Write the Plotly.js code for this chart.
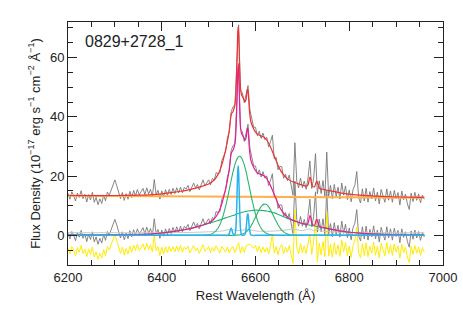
<!DOCTYPE html>
<html><head><meta charset="utf-8">
<script src="https://cdn.plot.ly/plotly-3.0.1.min.js"></script>
<style>html,body{margin:0;padding:0;background:#fff}#chart{width:463px;height:309px}</style>
</head><body><div id="chart"></div>
<script>
// ---- observed spectrum (continuum-subtracted), sampled every 4 A from 6200 A ----
const waveStart = 6200;
const waveStep = 4;
const fluxSub = [
 0.8,-1.2,1.3,0.1,-1.8,0.9,-0.6,1.7,-1.0,0.5,-2.1,0.4,-1.4,1.2,-2.2,-0.5,-3.0,-1.0,-2.6,0.3,-1.7,1.3,0.2,2.0,3.9,
 5.4,3.5,1.0,-0.9,1.2,-1.5,0.8,-1.1,1.6,-0.5,1.9,0.1,2.2,
 0.4,1.5,2.6,0.5,2.8,0.7,2.3,-0.1,
 5.6,0.5,2.0,-1.0,1.8,
 -0.3,2.2,0.2,2.3,0.6,
 2.7,0.9,2.9,1.1,3.1,
 1.2,3.0,2.5,3.7,1.6,3.2,4.5,2.9,4.0,2.2,4.1,5.6,3.6,4.4,5.6,3.9,6.1,5.5,8.1,7.7,8.0,12.1,13.5,15.1,19.8,21.8,28.6,30.3,30.8,43.5,
 58.0,35.7,35.0,31.7,34.5,37.5,29.4,25.8,23.5,23.4,20.6,22.1,19.7,21.5,19.3,20.1,16.8,18.6,20.8,12.8,13.4,9.1,10.3,10.2,6.3,
 7.7,5.5,7.4,3.6,0.6,18.3,5.4,3.1,6.4,3.1,5.4,2.6,6.4,12.2,2.9,6.3,14.7,1.1,5.5,1.2,5.6,0.3,15.2,0.3,4.0,
 -0.5,4.3,0.2,3.4,-0.6,4.8,0.7,3.8,-0.8,2.5,-1.5,2.6,4.1,8.7,-0.1,-1.9,2.9,-1.2,3.1,-1.6,2.0,-0.5,3.2,-1.2,1.8,
 -2.2,2.7,0.6,-1.6,2.9,-0.9,2.2,-1.6,2.4,-0.4,1.7,-2.5,2.2,-0.7,1.2,-2.1,-4.0,1.5,-1.3,1.8,-0.9,1.3,-1.7,0.9,-0.5
];
// ---- fit residual (data - model), same sampling ----
const residual = [
 0.7,-1.3,1.2,0.0,-1.9,0.8,-0.7,1.6,-1.1,0.4,-2.2,0.3,-1.5,1.1,-2.3,-0.6,-3.1,-1.1,-2.7,0.2,-1.8,1.2,0.1,1.9,3.8,
 5.2,3.3,0.8,-1.1,1.0,-1.7,0.6,-1.3,1.4,-0.7,1.7,-0.1,2.0,
 -0.1,1.0,2.1,0.0,2.3,0.2,1.8,-0.6,
 4.8,-0.2,1.2,-1.8,1.0,
 -1.3,1.2,-0.8,1.3,-0.4,
 1.2,-0.6,1.4,-0.4,1.6,
 -0.7,1.0,0.3,1.4,-0.9,0.5,1.6,-0.2,0.8,-1.1,0.6,1.9,-0.4,0.2,1.2,-0.8,0.9,-0.3,1.5,0.1,-1.0,1.3,0.4,-0.6,1.1,-0.9,0.7,1.2,-0.8,0.6,
 2.5,-1.0,1.2,-0.8,1.5,1.8,2.0,1.4,0.6,1.6,-0.5,1.3,-0.9,1.1,-0.6,0.9,-1.3,1.7,5.5,-1.0,1.2,-1.6,0.8,1.9,-1.2,
 1.0,-0.7,1.6,-1.8,-4.5,13.5,0.8,-1.3,2.2,-0.9,1.5,-1.1,2.3,5.5,-1.4,3.0,10.5,-4.0,2.4,-1.6,2.9,-2.2,12.8,-2.0,1.9,
 -2.4,2.5,-1.5,1.8,-2.1,3.4,-0.6,2.6,-1.9,1.4,-2.5,1.6,3.2,7.8,-0.9,-2.6,2.2,-1.8,2.5,-2.2,1.4,-1.0,2.7,-1.7,1.3,
 -2.6,2.3,0.2,-1.9,2.6,-1.2,1.9,-1.8,2.1,-0.6,1.5,-2.7,2.0,-0.9,1.0,-2.3,-4.2,1.3,-1.4,1.6,-1.0,1.1,-1.8,0.8,-0.6
];
// ---- continuum ----
const contWave = [6200, 6960];
const contFlux = [13.4, 12.7];
// ---- model components ----
const modelWave = [6200,6250,6300,6350,6380,6400,6420,6440,6460,6480,
 6500,6510,6520,6528,6536,6540,6544,6546,6548,6550,
 6552,6556,6558,6560,6561,6562,6563,6564,6565,6566,
 6568,6570,6574,6578,6580,6582,6583,6584,6585,6587,
 6590,6594,6600,6606,6612,6618,6624,6630,6636,6642,
 6648,6654,6660,6670,6680,6690,6700,6708,6712,6714,
 6716,6718,6721,6726,6729,6731,6733,6737,6745,6760,
 6780,6800,6830,6870,6910,6960];
const broad1 = [0,0,0,0,0,0,0,0,0,0.01,
 0.19,0.76,2.4,5.2,9.6,12.4,15.4,17.0,18.5,20.0,
 21.4,23.8,24.8,25.6,25.9,26.2,26.4,26.6,26.7,26.7,
 26.6,26.2,24.8,22.7,21.4,20.0,19.2,18.5,17.7,16.2,
 13.9,11.0,7.2,4.3,2.4,1.24,0.6,0.26,0.1,0.04,
 0,0,0,0,0,0,0,0,0,0,
 0,0,0,0,0,0,0,0,0,0,
 0,0,0,0,0,0];
const broad2 = [0,0,0,0,0,0,0,0,0,0,
 0,0,0,0,0,0,0,0.01,0.01,0.01,
 0.02,0.04,0.05,0.07,0.08,0.09,0.11,0.12,0.14,0.15,
 0.25,0.33,0.56,0.92,1.16,1.43,1.59,1.76,1.94,2.34,
 3.0,4.2,6.1,8.1,9.7,10.54,10.37,9.2,7.4,5.4,
 3.6,2.1,1.16,0.33,0.07,0.01,0,0,0,0,
 0,0,0,0,0,0,0,0,0,0,
 0,0,0,0,0,0];
const broad3 = [0.05,0.08,0.15,0.3,0.5,0.8,1.2,1.7,2.3,3.1,
 4.0,4.5,5.0,5.4,5.9,6.1,6.3,6.4,6.5,6.6,
 6.7,6.9,7.1,7.2,7.25,7.3,7.35,7.4,7.45,7.5,
 7.6,7.7,7.9,8.0,8.1,8.15,8.2,8.2,8.25,8.3,
 8.35,8.45,8.5,8.5,8.45,8.35,8.2,8.0,7.8,7.5,
 7.1,6.7,6.3,5.6,5.0,4.5,4.0,3.7,3.55,3.5,
 3.45,3.4,3.3,3.15,3.05,3.0,2.95,2.85,2.6,2.1,
 1.5,1.05,0.65,0.35,0.2,0.12];
const narrow = [0,0,0,0,0,0,0,0,0,0,
 0,0,0,0,0,0,0.55,1.7,2.5,1.7,
 0.55,0.23,2.2,10.0,16.1,21.4,23.5,21.4,16.1,10.0,
 2.2,0.23,0,0.42,2.3,6.0,7.2,7.2,6.0,2.3,
 0.13,0,0,0,0,0,0,0,0,0,
 0,0,0,0,0,0,0,0,0,0,
 0,0,0,0,0,0,0,0,0,0,
 0,0,0,0,0,0];
const sulfur = [0,0,0,0,0,0,0,0,0,0,
 0,0,0,0,0,0,0,0,0,0,
 0,0,0,0,0,0,0,0,0,0,
 0,0,0,0,0,0,0,0,0,0,
 0,0,0,0,0,0,0,0,0,0,
 0,0,0,0,0,0,0,0,0.53,1.9,
 3.25,2.6,0.45,0.27,1.77,2.4,1.52,0.06,0,0,
 0,0,0,0,0,0];
const grayWave = [6200,6300,6400,6460,6500,6530,6548,6563,6583,6600,6630,6660,6680,6700,6716,6724,6731,6745,6780,6820,6960];
const grayComp = [0.9,0.9,0.9,1.0,1.2,1.5,2.0,1.6,2.0,1.5,1.4,1.7,2.1,1.6,2.2,1.6,2.0,1.4,1.1,0.9,0.9];
const residOffset = -5;

// ---- derived ----
const wave = fluxSub.map((_, i) => waveStart + i * waveStep);
function contAt(w) { return contFlux[0] + (contFlux[1] - contFlux[0]) * (w - contWave[0]) / (contWave[1] - contWave[0]); }
const fluxObs = fluxSub.map((v, i) => v + contAt(wave[i]));
const modelSub = modelWave.map((w, i) => broad1[i] + broad2[i] + broad3[i] + narrow[i] + sulfur[i]);
const modelTot = modelSub.map((v, i) => v + contAt(modelWave[i]));
const residShift = residual.map(v => v + residOffset);

const GRAY = 'rgb(120,120,120)';
const traces = [
  {x: wave, y: fluxObs, mode: 'lines', line: {color: GRAY, width: 0.9}},
  {x: wave, y: fluxSub, mode: 'lines', line: {color: GRAY, width: 0.9}},
  {x: wave, y: residShift, mode: 'lines', line: {color: 'rgb(255,236,0)', width: 1}},
  {x: contWave, y: contFlux, mode: 'lines', line: {color: 'rgb(255,175,70)', width: 2}},
  {x: grayWave, y: grayComp, mode: 'lines', line: {color: 'rgb(200,200,200)', width: 1, shape: 'spline'}},
  {x: modelWave, y: broad3, mode: 'lines', line: {color: 'rgb(40,180,110)', width: 1.1, shape: 'spline'}},
  {x: modelWave, y: broad1, mode: 'lines', line: {color: 'rgb(40,180,110)', width: 1.1, shape: 'spline'}},
  {x: modelWave, y: broad2, mode: 'lines', line: {color: 'rgb(40,180,110)', width: 1.1, shape: 'spline'}},
  {x: modelWave, y: modelSub, mode: 'lines', line: {color: 'rgb(230,30,150)', width: 1.2, shape: 'spline', smoothing: 0.6}},
  {x: modelWave, y: narrow, mode: 'lines', line: {color: 'rgb(40,180,240)', width: 1.5, shape: 'spline', smoothing: 0.6}},
  {x: modelWave, y: modelTot, mode: 'lines', line: {color: 'rgb(240,50,50)', width: 1.2, shape: 'spline', smoothing: 0.6}}
];

const axisCommon = {
  ticks: 'inside', ticklen: 9, tickwidth: 1, tickcolor: '#222',
  showline: true, linecolor: '#222', linewidth: 1, mirror: 'ticks',
  showgrid: false, zeroline: false,
  tickfont: {size: 13, color: '#222'}
};
const layout = {
  width: 463, height: 309,
  margin: {l: 68, r: 20, t: 22, b: 44},
  paper_bgcolor: '#fff', plot_bgcolor: '#fff',
  showlegend: false,
  font: {family: 'Liberation Sans, Arial, sans-serif', size: 13, color: '#222'},
  xaxis: Object.assign({}, axisCommon, {
    range: [6200, 7000], tickmode: 'linear', tick0: 6200, dtick: 200,
    minor: {tick0: 6200, dtick: 50, ticks: 'inside', ticklen: 5, tickcolor: '#222', showgrid: false},
    title: {text: 'Rest Wavelength (Å)', font: {size: 13, color: '#222'}, standoff: 7}
  }),
  yaxis: Object.assign({}, axisCommon, {
    range: [-10, 72], tickmode: 'linear', tick0: 0, dtick: 20,
    minor: {tick0: 0, dtick: 5, ticks: 'inside', ticklen: 5, tickcolor: '#222', showgrid: false},
    title: {text: 'Flux Density (10<sup>−17</sup> erg s<sup>−1</sup> cm<sup>−2</sup> Å<sup>−1</sup>)', font: {size: 13, color: '#222'}, standoff: 6}
  }),
  annotations: [{
    text: '0829+2728_1', xref: 'paper', yref: 'paper', x: 0.04, y: 0.918,
    xanchor: 'left', yanchor: 'middle', showarrow: false,
    font: {size: 16, color: '#222'}
  }]
};
Plotly.newPlot('chart', traces, layout, {staticPlot: true, displayModeBar: false});
</script>
</body></html>
